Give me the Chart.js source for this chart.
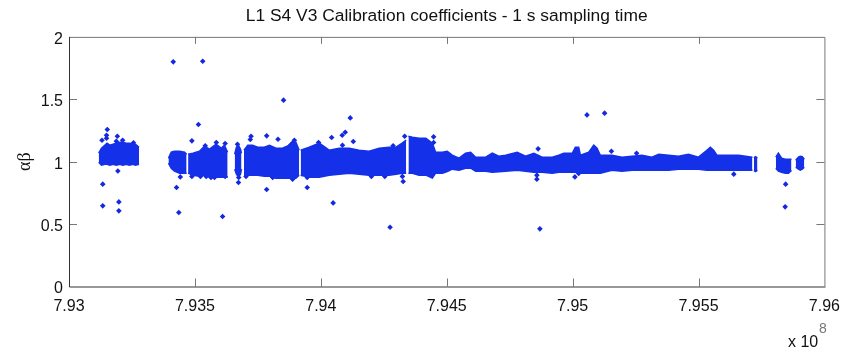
<!DOCTYPE html>
<html>
<head>
<meta charset="utf-8">
<style>
  html, body { margin: 0; padding: 0; background: #fff; }
  canvas { display: block; }
</style>
<script src="https://cdn.jsdelivr.net/npm/chart.js@4"></script>
</head>
<body>
<canvas id="chart" width="850" height="350"></canvas>
<script>
const titleText = "L1 S4 V3 Calibration coefficients - 1 s sampling time";
const xTicks = [7.93, 7.935, 7.94, 7.945, 7.95, 7.955, 7.96];
const xTickLabels = ["7.93", "7.935", "7.94", "7.945", "7.95", "7.955", "7.96"];
const yTicks = [0, 0.5, 1, 1.5, 2];
const yTickLabels = ["0", "0.5", "1", "1.5", "2"];

const bandX = [
  7.93118, 7.93129, 7.93142, 7.93151, 7.93162, 7.93175, 7.93188, 7.93201, 7.93214, 7.93227, 7.9324, 7.93254, 7.93264, 7.93278, null,
  7.93395, 7.93406, 7.93419, 7.93439, 7.93459, 7.93467, null,
  7.93473, 7.93492, 7.93518, 7.93538, 7.93558, 7.93584, 7.93604, 7.93617, 7.9363, null,
  7.93658, 7.93665, 7.93673, 7.93681, 7.93685, null,
  7.93695, 7.9371, 7.93729, 7.93749, 7.93776, 7.93796, 7.93822, 7.93848, 7.93875, 7.93901, 7.93914, null,
  7.9392, 7.93954, 7.93994, 7.94033, 7.94073, 7.94113, 7.94152, 7.94192, 7.94232, 7.94271, 7.94299, 7.94323, 7.94339, null,
  7.94348, 7.94364, 7.9439, 7.94417, 7.94443, 7.94456, 7.94483, 7.94502, 7.94522, 7.94549, 7.94575, 7.94595, 7.94615, 7.94655, 7.94681, 7.94707, 7.94734, 7.9478, 7.94813, 7.94846, 7.94879, 7.94919, 7.94945, 7.94965, 7.94999, 7.95011, 7.95024, 7.95031, 7.95064, 7.95084, 7.95097, 7.9511, 7.95156, 7.95196, 7.95236, 7.95275, 7.95315, 7.95342, 7.95381, 7.95421, 7.9546, 7.955, 7.95533, 7.95547, 7.9556, 7.95573, 7.95619, 7.95659, 7.95714, null,
  7.9572, 7.95726, 7.95734, null,
  7.95807, 7.95817, 7.9583, 7.95845, 7.95857, 7.95869, null,
  7.95886, 7.95897, 7.95904, 7.95912, 7.9592
];
const bandTop = [
  1.068, 1.108, 1.132, 1.148, 1.132, 1.14, 1.148, 1.156, 1.156, 1.148, 1.148, 1.14, 1.14, 1.116, null,
  1.028, 1.076, 1.084, 1.084, 1.076, 1.06, null,
  1.06, 1.068, 1.084, 1.124, 1.1, 1.14, 1.108, 1.132, 1.076, null,
  1.06, 1.116, 1.132, 1.1, 1.068, null,
  1.092, 1.132, 1.132, 1.116, 1.116, 1.132, 1.108, 1.108, 1.132, 1.156, 1.092, null,
  1.092, 1.116, 1.148, 1.092, 1.108, 1.108, 1.092, 1.084, 1.108, 1.116, 1.116, 1.148, 1.172, null,
  1.204, 1.196, 1.188, 1.188, 1.148, 1.076, 1.076, 1.084, 1.052, 1.028, 1.068, 1.076, 1.036, 1.036, 1.068, 1.044, 1.052, 1.076, 1.044, 1.068, 1.036, 1.036, 1.052, 1.068, 1.068, 1.116, 1.116, 1.052, 1.076, 1.132, 1.108, 1.052, 1.052, 1.036, 1.044, 1.052, 1.036, 1.06, 1.052, 1.044, 1.06, 1.036, 1.092, 1.116, 1.092, 1.052, 1.052, 1.052, 1.036, null,
  1.03, 1.04, 1.03, null,
  1.036, 1.068, 1.028, 1.02, 1.02, 1.02, null,
  1.012, 1.036, 1.044, 1.04, 1.02
];
const bandBottom = [
  0.996, 0.972, 0.98, 0.98, 0.972, 0.98, 0.972, 0.98, 0.972, 0.98, 0.972, 0.98, 0.972, 0.98, null,
  0.988, 0.948, 0.924, 0.908, 0.908, 0.908, null,
  0.908, 0.892, 0.884, 0.892, 0.876, 0.876, 0.876, 0.876, 0.876, null,
  0.94, 0.9, 0.876, 0.9, 0.94, null,
  0.892, 0.892, 0.892, 0.892, 0.884, 0.884, 0.868, 0.868, 0.868, 0.868, 0.892, null,
  0.892, 0.876, 0.876, 0.892, 0.9, 0.908, 0.9, 0.892, 0.892, 0.892, 0.9, 0.908, 0.908, null,
  0.908, 0.908, 0.892, 0.892, 0.868, 0.908, 0.908, 0.92, 0.94, 0.932, 0.948, 0.948, 0.924, 0.924, 0.916, 0.92, 0.924, 0.932, 0.924, 0.916, 0.916, 0.908, 0.916, 0.916, 0.916, 0.916, 0.908, 0.91, 0.908, 0.908, 0.908, 0.908, 0.932, 0.924, 0.932, 0.932, 0.932, 0.932, 0.932, 0.94, 0.94, 0.94, 0.932, 0.932, 0.932, 0.932, 0.932, 0.932, 0.932, null,
  0.93, 0.92, 0.93, null,
  0.948, 0.924, 0.916, 0.908, 0.908, 0.93, null,
  0.956, 0.94, 0.932, 0.94, 0.956
];

// Single samples outside the cloud
const outlierX = [
  7.93152, 7.93149, 7.93149, 7.93131, 7.93192, 7.93188, 7.93213, 7.93256, 7.93194, 7.93414, 7.93531, 7.93514, 7.93488, 7.93541, 7.93585, 7.9362,
  7.93852, 7.93785, 7.93723, 7.9372, 7.9383, 7.93895, 7.93669, 7.93991, 7.94043, 7.94085, 7.94097, 7.94117, 7.94129, 7.94086, 7.94287, 7.94333,
  7.93134, 7.93134, 7.93198, 7.93198, 7.93427, 7.93442, 7.93436, 7.9361, 7.93673, 7.93674, 7.93785, 7.93946, 7.94049, 7.94275, 7.94327, 7.93888,
  7.93809, 7.93564, 7.93578, 7.93946, 7.95057, 7.95127, 7.94448, 7.94448, 7.94863, 7.95154, 7.95254, 7.9487, 7.94858, 7.95009, 7.95846, 7.95844, 7.9564,
  7.93488, 7.93522, 7.93545, 7.9362, 7.93703, 7.93807, 7.93823, 7.93835, 7.93888, 7.94201, 7.94254, 7.94324,
  7.93887, 7.93879, 7.94858, 7.95024
];
const outlierY = [
  1.258, 1.212, 1.188, 1.172, 1.204, 1.164, 1.172, 1.151, 0.926, 1.8, 1.805, 1.298, 1.167, 1.127, 1.154, 1.146,
  1.493, 1.207, 1.204, 1.178, 1.18, 1.172, 1.14, 1.154, 1.194, 1.212, 1.236, 1.351, 1.162, 1.132, 1.127, 1.204,
  0.82, 0.646, 0.678, 0.606, 0.793, 0.878, 0.593, 0.561, 0.833, 0.873, 0.777, 0.793, 0.67, 0.475, 0.841, 0.86,
  0.873, 0.873, 0.873, 0.873, 1.375, 1.389, 1.199, 1.154, 1.103, 1.084, 1.068, 0.462, 0.86, 0.878, 0.82, 0.638, 0.9,
  0.882, 0.882, 0.882, 0.882, 0.882, 0.882, 0.882, 0.882, 0.882, 0.882, 0.882, 0.882,
  1.148, 1.132, 0.892, 0.905
];

const blue = "#1430e8";

function toPoints(xs, ys) {
  return xs.map((x, i) => ({ x: x === null ? NaN : x, y: ys[i] }));
}

// Matlab style frame: ticks point inwards on all four sides, plus the "x 10^8" note
const framePlugin = {
  id: "frame",
  afterDraw(chart) {
    const { ctx, chartArea: a, scales } = chart;
    ctx.save();
    ctx.lineWidth = 1;
    ctx.strokeStyle = "#777";
    ctx.beginPath();
    ctx.moveTo(a.left, a.top + 0.5);
    ctx.lineTo(a.right + 0.5, a.top + 0.5);
    ctx.lineTo(a.right + 0.5, a.bottom);
    xTicks.slice(1, -1).forEach(v => {
      const px = Math.round(scales.x.getPixelForValue(v)) + 0.5;
      ctx.moveTo(px, a.top);
      ctx.lineTo(px, a.top + 7);
      ctx.moveTo(px, a.bottom);
      ctx.lineTo(px, a.bottom - 8);
    });
    yTicks.slice(1, -1).forEach(v => {
      const py = Math.round(scales.y.getPixelForValue(v)) + 0.5;
      ctx.moveTo(a.left, py);
      ctx.lineTo(a.left + 8, py);
      ctx.moveTo(a.right, py);
      ctx.lineTo(a.right - 8, py);
    });
    ctx.stroke();
    ctx.strokeStyle = "#333";
    ctx.beginPath();
    ctx.moveTo(a.left + 0.5, a.top);
    ctx.lineTo(a.left + 0.5, a.bottom + 0.5);
    ctx.lineTo(a.right + 1, a.bottom + 0.5);
    ctx.stroke();

    ctx.fillStyle = "#111";
    ctx.font = "16px 'Liberation Sans'";
    ctx.textAlign = "left";
    ctx.textBaseline = "alphabetic";
    ctx.fillText("x 10", 788, 347);
    ctx.fillStyle = "#777";
    ctx.font = "14px 'Liberation Sans'";
    ctx.fillText("8", 819, 333);
    ctx.restore();
  }
};

new Chart(document.getElementById("chart"), {
  type: "scatter",
  data: {
    datasets: [
      {
        data: toPoints(bandX, bandTop),
        showLine: true,
        spanGaps: false,
        fill: "+1",
        backgroundColor: blue,
        borderColor: blue,
        borderWidth: 1.5,
        pointRadius: 0
      },
      {
        data: toPoints(bandX, bandBottom),
        showLine: true,
        spanGaps: false,
        borderColor: blue,
        borderWidth: 1.5,
        pointRadius: 0
      },
      {
        data: toPoints(outlierX, outlierY),
        pointStyle: "rectRot",
        pointRadius: 2.8,
        pointBorderWidth: 0,
        backgroundColor: "#1428e0"
      }
    ]
  },
  options: {
    responsive: false,
    animation: false,
    layout: { padding: { top: 0, right: 23.5, bottom: 0, left: 0 } },
    plugins: {
      legend: { display: false },
      tooltip: { enabled: false },
      title: {
        display: true,
        text: titleText,
        fullSize: false,
        color: "#111",
        font: { family: "'Liberation Sans'", size: 17.4, weight: "normal" },
        padding: { top: 6, bottom: 10 }
      }
    },
    scales: {
      x: {
        type: "linear",
        min: 7.93,
        max: 7.96,
        grid: { display: false, drawTicks: false },
        border: { display: false },
        afterBuildTicks: s => { s.ticks = xTicks.map(v => ({ value: v })); },
        afterFit: s => { s.height = 63.5; },
        ticks: {
          maxRotation: 0,
          autoSkip: false,
          padding: 10,
          color: "#111",
          font: { family: "'Liberation Sans'", size: 16 },
          callback: (v, i) => xTickLabels[i]
        }
      },
      y: {
        min: 0,
        max: 2,
        grid: { display: false, drawTicks: false },
        border: { display: false },
        afterBuildTicks: s => { s.ticks = yTicks.map(v => ({ value: v })); },
        afterFit: s => { s.width = 69; },
        title: {
          display: true,
          text: "αβ",
          color: "#111",
          font: { family: "'Liberation Serif'", size: 18 },
          padding: { top: 14, bottom: 0 }
        },
        ticks: {
          padding: 6,
          labelOffset: 2.5,
          color: "#111",
          font: { family: "'Liberation Sans'", size: 16 },
          callback: (v, i) => yTickLabels[i]
        }
      }
    }
  },
  plugins: [framePlugin]
});
</script>
</body>
</html>
